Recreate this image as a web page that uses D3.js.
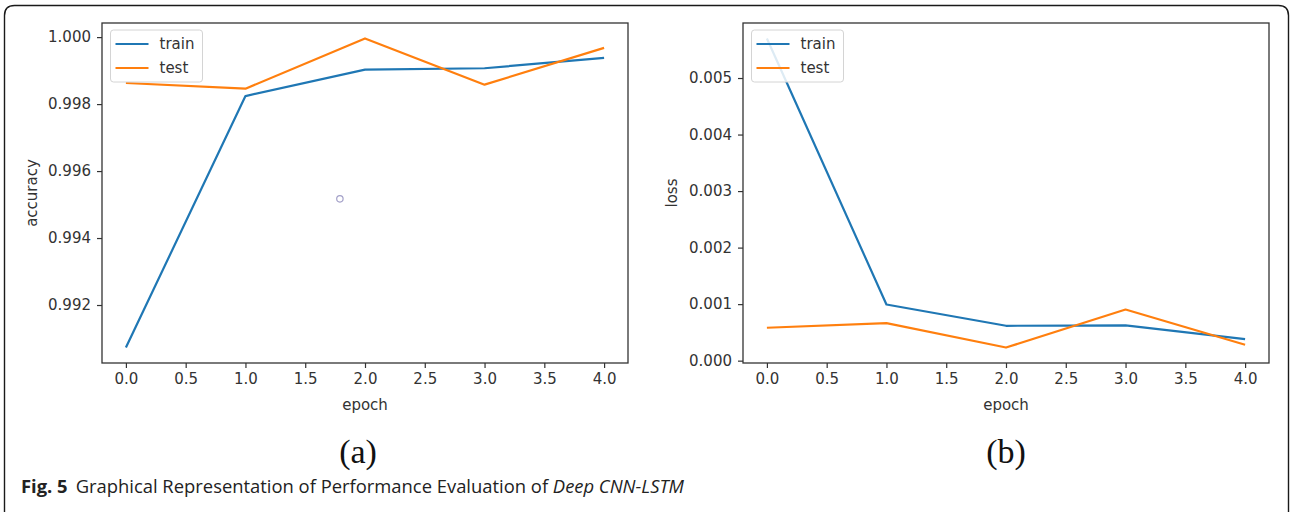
<!DOCTYPE html>
<html>
<head>
<meta charset="utf-8">
<script src="https://cdn.jsdelivr.net/npm/d3@7"></script>
<style>
  html, body { margin: 0; padding: 0; background: #fff; }
  svg { display: block; }
</style>
</head>
<body>
<svg id="chart" width="1290" height="514"></svg>
<script>
// ---------- data ----------
const epochs = [0, 1, 2, 3, 4];
const accTrain = [0.99073, 0.99824, 0.99903, 0.99907, 0.99938];
const accTest  = [0.99863, 0.99846, 0.99996, 0.99858, 0.99968];
const lossTrain = [0.005700, 0.000993, 0.000617, 0.000625, 0.000382];
const lossTest  = [0.000582, 0.000665, 0.000232, 0.000905, 0.000282];
const xTicks = [0, 0.5, 1, 1.5, 2, 2.5, 3, 3.5, 4];
const accTicks = [0.992, 0.994, 0.996, 0.998, 1.000];
const lossTicks = [0.000, 0.001, 0.002, 0.003, 0.004, 0.005];
const seriesNames = ["train", "test"];
const artifactPoint = [1.79, 0.99517];

const colors = ["#1f77b4", "#ff7f0e"];
const svg = d3.select("#chart");

// outer rounded frame
svg.append("path")
  .attr("d", "M4.5,512 L4.5,15.5 Q4.5,5.5 14.5,5.5 L1278.5,5.5 Q1288.5,5.5 1288.5,15.5 L1288.5,512")
  .attr("fill", "none").attr("stroke", "#1a1a1a").attr("stroke-width", 1.4);

function mplDomain(arrs) {
  const all = arrs.flat();
  const lo = d3.min(all), hi = d3.max(all), pad = (hi - lo) * 0.05;
  return [lo - pad, hi + pad];
}

function panel(opts) {
  const { left, right, top, bottom, series, yTicks, yLabel, labelX, legendX, artifact } = opts;
  const g = svg.append("g");
  const x = d3.scaleLinear().domain([-0.2, 4.2]).range([left, right]);
  const y = d3.scaleLinear().domain(mplDomain(series)).range([bottom, top]);

  // lines
  const line = d3.line().x((d, i) => x(epochs[i])).y(d => y(d));
  series.forEach((s, k) => {
    g.append("path").datum(s).attr("d", line)
      .attr("fill", "none").attr("stroke", colors[k]).attr("stroke-width", 2.2)
      .attr("stroke-linejoin", "round");
  });

  if (artifact) {
    g.append("circle").attr("cx", x(artifact[0])).attr("cy", y(artifact[1])).attr("r", 3.2)
      .attr("fill", "none").attr("stroke", "#a3a0c8").attr("stroke-width", 1.2);
  }

  // axes
  const xAxis = d3.axisBottom(x).tickValues(xTicks).tickFormat(d3.format(".1f")).tickSizeInner(5).tickSizeOuter(0).tickPadding(5);
  const yAxis = d3.axisLeft(y).tickValues(yTicks).tickFormat(d3.format(".3f")).tickSizeInner(5).tickSizeOuter(0).tickPadding(6);
  const gx = g.append("g").attr("transform", `translate(0,${bottom})`).call(xAxis);
  const gy = g.append("g").attr("transform", `translate(${left},0)`).call(yAxis);
  [gx, gy].forEach(a => {
    a.select(".domain").remove();
    a.selectAll("line").attr("stroke", "#333").attr("stroke-width", 1.2);
    a.selectAll("text").attr("fill", "#333").style("font-family", "DejaVu Sans").style("font-size", "15px");
  });

  // frame
  g.append("rect").attr("x", left).attr("y", top).attr("width", right - left).attr("height", bottom - top)
    .attr("fill", "none").attr("stroke", "#333").attr("stroke-width", 1.3);

  // axis labels
  g.append("text").attr("x", (left + right) / 2).attr("y", bottom + 47).attr("text-anchor", "middle")
    .attr("fill", "#333").style("font-family", "DejaVu Sans").style("font-size", "15px").text("epoch");
  g.append("text").attr("transform", `translate(${labelX},${(top + bottom) / 2}) rotate(-90)`)
    .attr("text-anchor", "middle").attr("fill", "#333")
    .style("font-family", "DejaVu Sans").style("font-size", "15px").text(yLabel);

  // legend
  const lg = g.append("g").attr("transform", `translate(${legendX},30)`);
  lg.append("rect").attr("x", 0).attr("y", 0).attr("width", 92).attr("height", 52).attr("rx", 3)
    .attr("fill", "rgba(255,255,255,0.85)").attr("stroke", "#d4d4d4").attr("stroke-width", 1);
  seriesNames.forEach((n, k) => {
    const yy = 14 + k * 24;
    lg.append("line").attr("x1", 5).attr("x2", 38).attr("y1", yy).attr("y2", yy)
      .attr("stroke", colors[k]).attr("stroke-width", 2.2);
    lg.append("text").attr("x", 49).attr("y", yy + 5).attr("fill", "#333")
      .style("font-family", "DejaVu Sans").style("font-size", "15px").text(n);
  });
  return g;
}

panel({ left: 102, right: 628, top: 23, bottom: 363, series: [accTrain, accTest],
  yTicks: accTicks, yLabel: "accuracy", labelX: 37, legendX: 110.5, artifact: artifactPoint });
panel({ left: 743, right: 1269, top: 23, bottom: 363, series: [lossTrain, lossTest],
  yTicks: lossTicks, yLabel: "loss", labelX: 677, legendX: 751.5 });

// sub captions
svg.append("text").attr("x", 358).attr("y", 463).attr("text-anchor", "middle")
  .style("font-family", "Liberation Serif").style("font-size", "34px").attr("fill", "#111").text("(a)");
svg.append("text").attr("x", 1006).attr("y", 463).attr("text-anchor", "middle")
  .style("font-family", "Liberation Serif").style("font-size", "34px").attr("fill", "#111").text("(b)");

// figure caption
const cap = svg.append("text").attr("x", 21).attr("y", 493)
  .style("font-family", "Open Sans").style("font-size", "18.4px").attr("fill", "#222");
cap.append("tspan").style("font-weight", "bold").text("Fig. 5");
cap.append("tspan").attr("dx", 8).text("Graphical Representation of Performance Evaluation of ");
cap.append("tspan").style("font-style", "italic").text("Deep CNN-LSTM");
</script>
</body>
</html>
